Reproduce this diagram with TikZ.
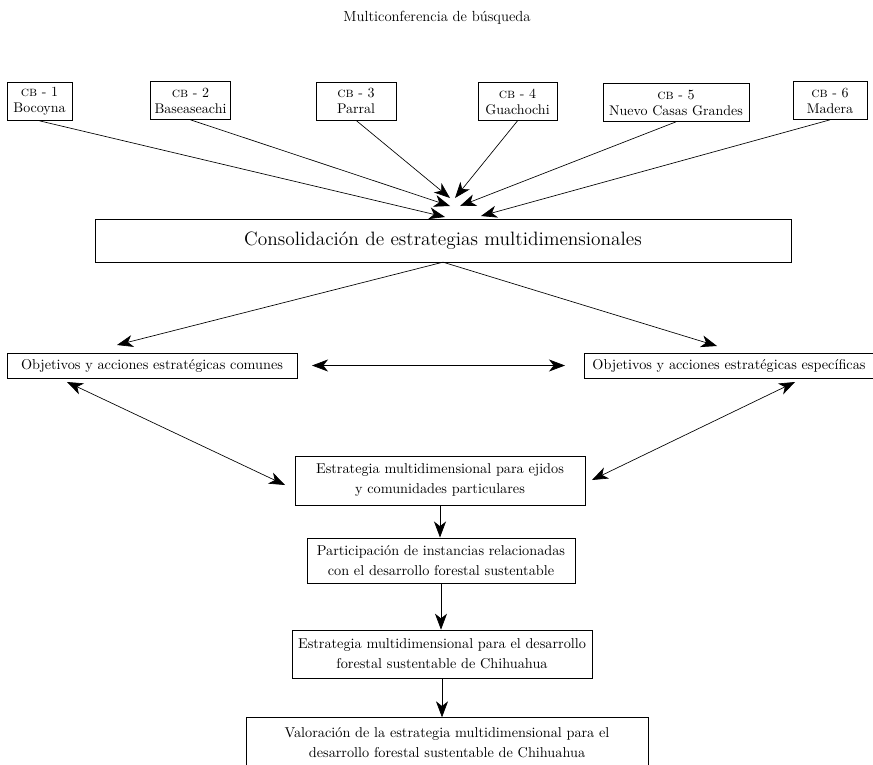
\documentclass[tikz,border=0pt]{standalone}
\usepackage{fontspec}
\usepackage{tikz}
\usetikzlibrary{arrows.meta}

\begin{document}
\begin{tikzpicture}[x=0.75pt, y=-0.75pt,
    box/.style={draw, line width=0.5pt, align=center, inner xsep=3pt, inner ysep=2pt,
      font=\fontsize{10.7}{15}\selectfont},
    cbbox/.style={box, minimum height=28.5pt, font=\fontsize{10.5}{12}\selectfont},
    tip/.tip={Stealth[length=12pt, width=9pt, inset=3.5pt]},
    arr/.style={-tip, line width=0.5pt},
    darr/.style={tip-tip, line width=0.5pt}]
  \useasboundingbox (0,0) rectangle (873,764);
  \node (title) at (437,18) {\fontsize{11}{13}\selectfont Multiconferencia de búsqueda};
  % CB boxes
  \node[cbbox, minimum width=48.75pt] (cb1) at (39.5,101.5) {\textsc{cb} - 1\\Bocoyna};
  \node[cbbox, minimum width=59.25pt] (cb2) at (190.5,100.5) {\textsc{cb} - 2\\Baseaseachi};
  \node[cbbox, minimum width=60pt] (cb3) at (356,101) {\textsc{cb} - 3\\Parral};
  \node[cbbox, minimum width=59.25pt] (cb4) at (517.5,101.5) {\textsc{cb} - 4\\Guachochi};
  \node[cbbox, minimum width=109.5pt] (cb5) at (676,102.5) {\textsc{cb} - 5\\Nuevo Casas Grandes};
  \node[cbbox, minimum width=55.5pt] (cb6) at (830,100.5) {\textsc{cb} - 6\\Madera};
  % Main boxes
  \node[box, minimum width=522pt, minimum height=32pt, font=\fontsize{14.5}{17}\selectfont] (cons) at (443,240.5)
    {Consolidación de estrategias multidimensionales};
  \node[box, minimum width=217.5pt, minimum height=19pt] (comunes) at (152,365.5)
    {Objetivos y acciones estratégicas comunes};
  \node[box, minimum width=217.5pt, minimum height=19pt] (especificas) at (729,365.5)
    {Objetivos y acciones estratégicas específicas};
  \node[box, minimum width=217.5pt, minimum height=37pt] (ejidos) at (440,480.5)
    {Estrategia multidimensional para ejidos\\y comunidades particulares};
  \node[box, minimum width=201pt, minimum height=34pt] (particip) at (441,560.5)
    {Participación de instancias relacionadas\\con el desarrollo forestal sustentable};
  \node[box, minimum width=225pt, minimum height=36pt] (chih) at (442,654)
    {Estrategia multidimensional para el desarrollo\\forestal sustentable de Chihuahua};
  \node[box, minimum width=301.5pt, minimum height=38pt] (valor) at (447,743)
    {Valoración de la estrategia multidimensional para el\\desarrollo forestal sustentable de Chihuahua};
  % Arrow tips
  \coordinate (t1) at (445,217);
  \coordinate (t2) at (450,206);
  \coordinate (t3) at (450,198);
  \coordinate (t4) at (455,198);
  \coordinate (t5) at (460,206);
  \coordinate (t6) at (481,216);
  \coordinate (tl) at (117,345);
  \coordinate (tr) at (717,346);
  \coordinate (cl) at (67,382);
  \coordinate (ce) at (285,485);
  \coordinate (er) at (795,382);
  \coordinate (ee) at (592,480);
  % Arrows
  \draw[arr] (cb1.south) -- (t1);
  \draw[arr] (cb2.south) -- (t2);
  \draw[arr] (cb3.south) -- (t3);
  \draw[arr] (cb4.south) -- (t4);
  \draw[arr] (cb5.south) -- (t5);
  \draw[arr] (cb6.south) -- (t6);
  \draw[arr] (cons.south) -- (tl);
  \draw[arr] (cons.south) -- (tr);
  \draw[darr, shorten <=11pt, shorten >=14pt] (comunes) -- (especificas);
  \draw[darr] (cl) -- (ce);
  \draw[darr] (er) -- (ee);
  \draw[arr] (ejidos.south) -- (ejidos.south |- particip.north);
  \draw[arr] (particip.south) -- (particip.south |- chih.north);
  \draw[arr] (chih.south) -- (chih.south |- valor.north);
\end{tikzpicture}
\end{document}
